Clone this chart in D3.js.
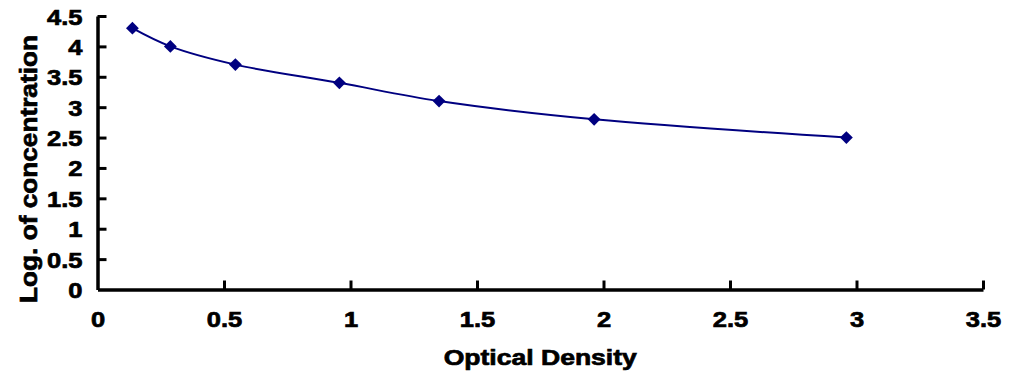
<!DOCTYPE html>
<html><head><meta charset="utf-8">
<script src="https://cdn.jsdelivr.net/npm/d3@7"></script>
<style>
html,body{margin:0;padding:0;background:#fff;}
text{font-family:"Liberation Sans",Arial,sans-serif;font-weight:bold;fill:#000;stroke:#000;stroke-width:0.7px;}
</style></head>
<body>
<svg id="c" width="1016" height="387"></svg>
<script>
const odValues = [0.138, 0.288, 0.545, 0.956, 1.35, 1.963, 2.96];
const logConc = [4.3, 4.0, 3.7, 3.4, 3.1, 2.8, 2.5];
const xTicks = [0, 0.5, 1, 1.5, 2, 2.5, 3, 3.5];
const yTicks = [0, 0.5, 1, 1.5, 2, 2.5, 3, 3.5, 4, 4.5];
const xTitle = "Optical Density";
const yTitle = "Log. of concentration";

const svg = d3.select("#c");
const L = 97.5, R = 983, T = 16, B = 289.5;
const x = d3.scaleLinear().domain([0, 3.5]).range([L, R]);
const y = d3.scaleLinear().domain([0, 4.5]).range([B, T]);
const fs = 22, sx = 1.16;

// x axis
const gx = svg.append("g").attr("transform", `translate(0,${B})`)
  .call(d3.axisBottom(x).tickValues(xTicks).tickSize(-9).tickSizeOuter(0).tickFormat(d3.format("")));
gx.select(".domain").attr("stroke", "#000").attr("stroke-width", 3.5);
gx.selectAll(".tick line").attr("stroke", "#000").attr("stroke-width", 3);
gx.selectAll(".tick text").remove();
gx.selectAll(".tick").filter(d => d === 0).select("line").remove();
gx.selectAll(".tick").append("text")
  .attr("transform", `translate(0,37) scale(${sx},1)`)
  .attr("text-anchor", "middle").attr("font-size", fs)
  .text(d => d3.format("")(d));

// y axis
const gy = svg.append("g").attr("transform", `translate(${L},0)`)
  .call(d3.axisLeft(y).tickValues(yTicks).tickSize(-9).tickSizeOuter(0).tickFormat(d3.format("")));
gy.select(".domain").attr("stroke", "#000").attr("stroke-width", 3.5);
gy.selectAll(".tick line").attr("stroke", "#000").attr("stroke-width", 3);
gy.selectAll(".tick text").remove();
gy.selectAll(".tick").filter(d => d === 0).select("line").remove();
gy.selectAll(".tick").append("text")
  .attr("transform", `translate(-15,8) scale(${sx},1)`)
  .attr("text-anchor", "end").attr("font-size", fs)
  .text(d => d3.format("")(d));

// titles
svg.append("text").attr("transform", `translate(${(L+R)/2},365) scale(1.18,1)`)
  .attr("text-anchor", "middle").attr("font-size", 22.5).text(xTitle);
svg.append("text").attr("transform", `translate(37,169) rotate(-90) scale(1.14,1)`)
  .attr("text-anchor", "middle").attr("font-size", 23).text(yTitle);

// curve
const pts = odValues.map((v, i) => [v, logConc[i]]);
svg.append("path").datum(pts)
  .attr("fill", "none").attr("stroke", "#000080").attr("stroke-width", 2)
  .attr("d", d3.line().x(d => x(d[0])).y(d => y(d[1])).curve(d3.curveCatmullRom.alpha(0.5)));

svg.selectAll(".pt").data(pts).enter().append("path").attr("class", "pt")
  .attr("transform", d => `translate(${x(d[0])},${y(d[1])})`)
  .attr("d", d3.symbol().type(d3.symbolDiamond2).size(105))
  .attr("fill", "#000080");
</script>
</body></html>
